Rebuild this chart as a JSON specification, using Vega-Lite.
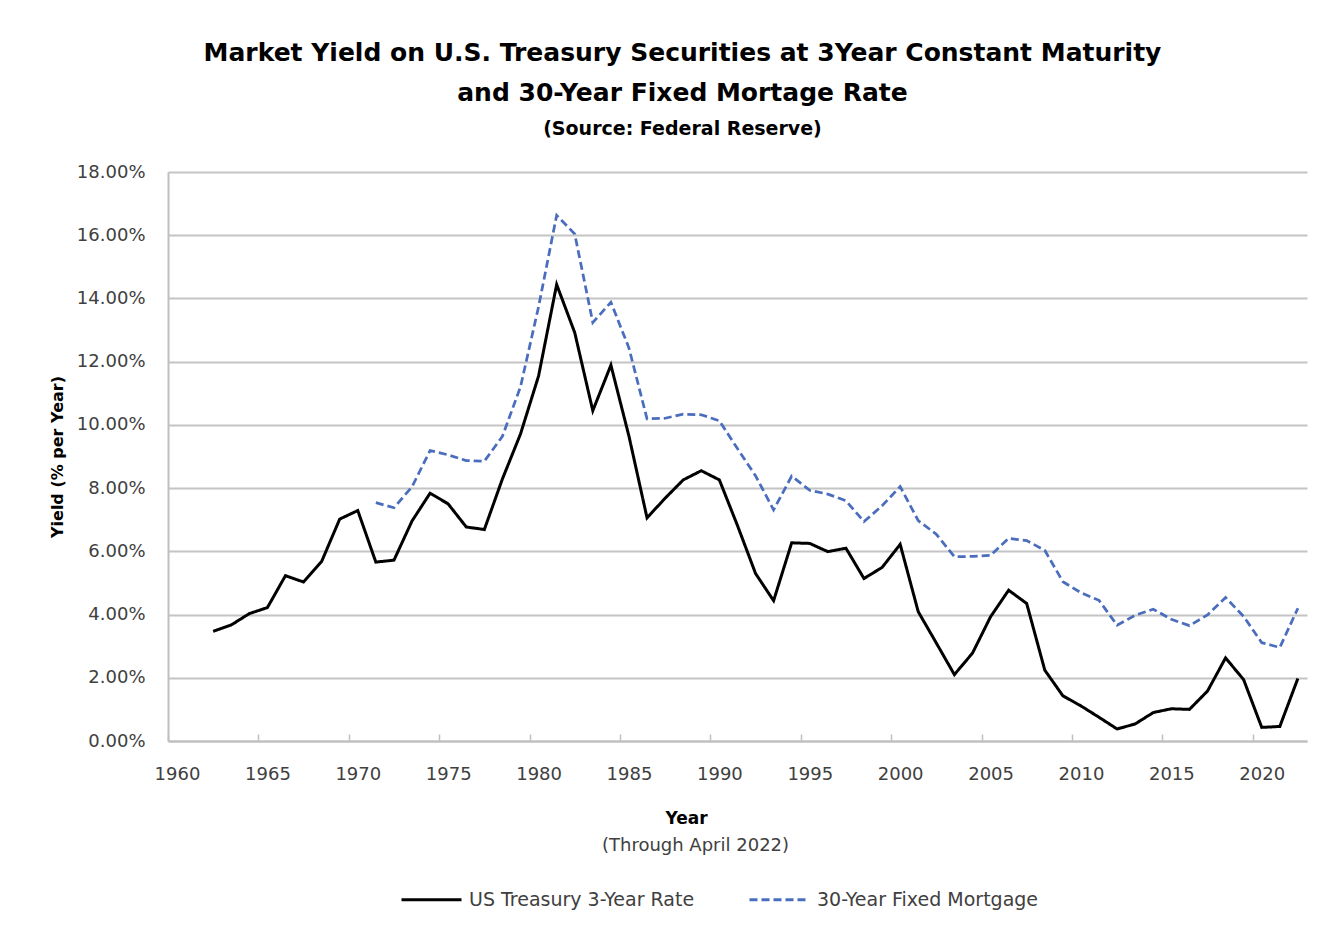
{
  "$schema": "https://vega.github.io/schema/vega-lite/v6.json",
  "autosize": "none",
  "width": 1139,
  "height": 569,
  "padding": {"left": 168, "top": 172, "right": 27, "bottom": 189},
  "background": "white",
  "title": {
    "text": ["Market Yield on U.S. Treasury Securities at 3Year Constant Maturity", "and 30-Year Fixed Mortage Rate"],
    "subtitle": "(Source: Federal Reserve)",
    "anchor": "middle",
    "dx": -55,
    "font": "DejaVu Sans",
    "fontSize": 25,
    "fontWeight": "bold",
    "lineHeight": 40,
    "color": "#000000",
    "subtitleFont": "DejaVu Sans",
    "subtitleFontSize": 19,
    "subtitleFontWeight": "bold",
    "subtitleColor": "#000000",
    "subtitlePadding": 14,
    "offset": 24
  },
  "data": {
    "values": [
      {"year": "1962-07-01", "series": "US Treasury 3-Year Rate", "rate": 3.47},
      {"year": "1963-07-01", "series": "US Treasury 3-Year Rate", "rate": 3.67},
      {"year": "1964-07-01", "series": "US Treasury 3-Year Rate", "rate": 4.03},
      {"year": "1965-07-01", "series": "US Treasury 3-Year Rate", "rate": 4.22},
      {"year": "1966-07-01", "series": "US Treasury 3-Year Rate", "rate": 5.23},
      {"year": "1967-07-01", "series": "US Treasury 3-Year Rate", "rate": 5.03},
      {"year": "1968-07-01", "series": "US Treasury 3-Year Rate", "rate": 5.68},
      {"year": "1969-07-01", "series": "US Treasury 3-Year Rate", "rate": 7.02},
      {"year": "1970-07-01", "series": "US Treasury 3-Year Rate", "rate": 7.29},
      {"year": "1971-07-01", "series": "US Treasury 3-Year Rate", "rate": 5.66},
      {"year": "1972-07-01", "series": "US Treasury 3-Year Rate", "rate": 5.72},
      {"year": "1973-07-01", "series": "US Treasury 3-Year Rate", "rate": 6.96},
      {"year": "1974-07-01", "series": "US Treasury 3-Year Rate", "rate": 7.84},
      {"year": "1975-07-01", "series": "US Treasury 3-Year Rate", "rate": 7.50},
      {"year": "1976-07-01", "series": "US Treasury 3-Year Rate", "rate": 6.77},
      {"year": "1977-07-01", "series": "US Treasury 3-Year Rate", "rate": 6.69},
      {"year": "1978-07-01", "series": "US Treasury 3-Year Rate", "rate": 8.29},
      {"year": "1979-07-01", "series": "US Treasury 3-Year Rate", "rate": 9.71},
      {"year": "1980-07-01", "series": "US Treasury 3-Year Rate", "rate": 11.55},
      {"year": "1981-07-01", "series": "US Treasury 3-Year Rate", "rate": 14.44},
      {"year": "1982-07-01", "series": "US Treasury 3-Year Rate", "rate": 12.92},
      {"year": "1983-07-01", "series": "US Treasury 3-Year Rate", "rate": 10.45},
      {"year": "1984-07-01", "series": "US Treasury 3-Year Rate", "rate": 11.89},
      {"year": "1985-07-01", "series": "US Treasury 3-Year Rate", "rate": 9.64},
      {"year": "1986-07-01", "series": "US Treasury 3-Year Rate", "rate": 7.06},
      {"year": "1987-07-01", "series": "US Treasury 3-Year Rate", "rate": 7.68},
      {"year": "1988-07-01", "series": "US Treasury 3-Year Rate", "rate": 8.26},
      {"year": "1989-07-01", "series": "US Treasury 3-Year Rate", "rate": 8.55},
      {"year": "1990-07-01", "series": "US Treasury 3-Year Rate", "rate": 8.26},
      {"year": "1991-07-01", "series": "US Treasury 3-Year Rate", "rate": 6.82},
      {"year": "1992-07-01", "series": "US Treasury 3-Year Rate", "rate": 5.30},
      {"year": "1993-07-01", "series": "US Treasury 3-Year Rate", "rate": 4.44},
      {"year": "1994-07-01", "series": "US Treasury 3-Year Rate", "rate": 6.27},
      {"year": "1995-07-01", "series": "US Treasury 3-Year Rate", "rate": 6.25},
      {"year": "1996-07-01", "series": "US Treasury 3-Year Rate", "rate": 5.99},
      {"year": "1997-07-01", "series": "US Treasury 3-Year Rate", "rate": 6.10},
      {"year": "1998-07-01", "series": "US Treasury 3-Year Rate", "rate": 5.14},
      {"year": "1999-07-01", "series": "US Treasury 3-Year Rate", "rate": 5.49},
      {"year": "2000-07-01", "series": "US Treasury 3-Year Rate", "rate": 6.22},
      {"year": "2001-07-01", "series": "US Treasury 3-Year Rate", "rate": 4.09},
      {"year": "2002-07-01", "series": "US Treasury 3-Year Rate", "rate": 3.10},
      {"year": "2003-07-01", "series": "US Treasury 3-Year Rate", "rate": 2.10},
      {"year": "2004-07-01", "series": "US Treasury 3-Year Rate", "rate": 2.78},
      {"year": "2005-07-01", "series": "US Treasury 3-Year Rate", "rate": 3.93},
      {"year": "2006-07-01", "series": "US Treasury 3-Year Rate", "rate": 4.77},
      {"year": "2007-07-01", "series": "US Treasury 3-Year Rate", "rate": 4.35},
      {"year": "2008-07-01", "series": "US Treasury 3-Year Rate", "rate": 2.24},
      {"year": "2009-07-01", "series": "US Treasury 3-Year Rate", "rate": 1.43},
      {"year": "2010-07-01", "series": "US Treasury 3-Year Rate", "rate": 1.11},
      {"year": "2011-07-01", "series": "US Treasury 3-Year Rate", "rate": 0.75},
      {"year": "2012-07-01", "series": "US Treasury 3-Year Rate", "rate": 0.38},
      {"year": "2013-07-01", "series": "US Treasury 3-Year Rate", "rate": 0.54},
      {"year": "2014-07-01", "series": "US Treasury 3-Year Rate", "rate": 0.90},
      {"year": "2015-07-01", "series": "US Treasury 3-Year Rate", "rate": 1.02},
      {"year": "2016-07-01", "series": "US Treasury 3-Year Rate", "rate": 1.00},
      {"year": "2017-07-01", "series": "US Treasury 3-Year Rate", "rate": 1.58},
      {"year": "2018-07-01", "series": "US Treasury 3-Year Rate", "rate": 2.63},
      {"year": "2019-07-01", "series": "US Treasury 3-Year Rate", "rate": 1.94},
      {"year": "2020-07-01", "series": "US Treasury 3-Year Rate", "rate": 0.43},
      {"year": "2021-07-01", "series": "US Treasury 3-Year Rate", "rate": 0.46},
      {"year": "2022-07-01", "series": "US Treasury 3-Year Rate", "rate": 1.98},
      {"year": "1971-07-01", "series": "30-Year Fixed Mortgage", "rate": 7.54},
      {"year": "1972-07-01", "series": "30-Year Fixed Mortgage", "rate": 7.38},
      {"year": "1973-07-01", "series": "30-Year Fixed Mortgage", "rate": 8.04},
      {"year": "1974-07-01", "series": "30-Year Fixed Mortgage", "rate": 9.19},
      {"year": "1975-07-01", "series": "30-Year Fixed Mortgage", "rate": 9.05},
      {"year": "1976-07-01", "series": "30-Year Fixed Mortgage", "rate": 8.87},
      {"year": "1977-07-01", "series": "30-Year Fixed Mortgage", "rate": 8.85},
      {"year": "1978-07-01", "series": "30-Year Fixed Mortgage", "rate": 9.64},
      {"year": "1979-07-01", "series": "30-Year Fixed Mortgage", "rate": 11.20},
      {"year": "1980-07-01", "series": "30-Year Fixed Mortgage", "rate": 13.74},
      {"year": "1981-07-01", "series": "30-Year Fixed Mortgage", "rate": 16.63},
      {"year": "1982-07-01", "series": "30-Year Fixed Mortgage", "rate": 16.04},
      {"year": "1983-07-01", "series": "30-Year Fixed Mortgage", "rate": 13.24},
      {"year": "1984-07-01", "series": "30-Year Fixed Mortgage", "rate": 13.88},
      {"year": "1985-07-01", "series": "30-Year Fixed Mortgage", "rate": 12.43},
      {"year": "1986-07-01", "series": "30-Year Fixed Mortgage", "rate": 10.19},
      {"year": "1987-07-01", "series": "30-Year Fixed Mortgage", "rate": 10.21},
      {"year": "1988-07-01", "series": "30-Year Fixed Mortgage", "rate": 10.34},
      {"year": "1989-07-01", "series": "30-Year Fixed Mortgage", "rate": 10.32},
      {"year": "1990-07-01", "series": "30-Year Fixed Mortgage", "rate": 10.13},
      {"year": "1991-07-01", "series": "30-Year Fixed Mortgage", "rate": 9.25},
      {"year": "1992-07-01", "series": "30-Year Fixed Mortgage", "rate": 8.39},
      {"year": "1993-07-01", "series": "30-Year Fixed Mortgage", "rate": 7.31},
      {"year": "1994-07-01", "series": "30-Year Fixed Mortgage", "rate": 8.38},
      {"year": "1995-07-01", "series": "30-Year Fixed Mortgage", "rate": 7.93},
      {"year": "1996-07-01", "series": "30-Year Fixed Mortgage", "rate": 7.81},
      {"year": "1997-07-01", "series": "30-Year Fixed Mortgage", "rate": 7.60},
      {"year": "1998-07-01", "series": "30-Year Fixed Mortgage", "rate": 6.94},
      {"year": "1999-07-01", "series": "30-Year Fixed Mortgage", "rate": 7.44},
      {"year": "2000-07-01", "series": "30-Year Fixed Mortgage", "rate": 8.05},
      {"year": "2001-07-01", "series": "30-Year Fixed Mortgage", "rate": 6.97},
      {"year": "2002-07-01", "series": "30-Year Fixed Mortgage", "rate": 6.54},
      {"year": "2003-07-01", "series": "30-Year Fixed Mortgage", "rate": 5.83},
      {"year": "2004-07-01", "series": "30-Year Fixed Mortgage", "rate": 5.84},
      {"year": "2005-07-01", "series": "30-Year Fixed Mortgage", "rate": 5.87},
      {"year": "2006-07-01", "series": "30-Year Fixed Mortgage", "rate": 6.41},
      {"year": "2007-07-01", "series": "30-Year Fixed Mortgage", "rate": 6.34},
      {"year": "2008-07-01", "series": "30-Year Fixed Mortgage", "rate": 6.03},
      {"year": "2009-07-01", "series": "30-Year Fixed Mortgage", "rate": 5.04},
      {"year": "2010-07-01", "series": "30-Year Fixed Mortgage", "rate": 4.69},
      {"year": "2011-07-01", "series": "30-Year Fixed Mortgage", "rate": 4.45},
      {"year": "2012-07-01", "series": "30-Year Fixed Mortgage", "rate": 3.66},
      {"year": "2013-07-01", "series": "30-Year Fixed Mortgage", "rate": 3.98},
      {"year": "2014-07-01", "series": "30-Year Fixed Mortgage", "rate": 4.17},
      {"year": "2015-07-01", "series": "30-Year Fixed Mortgage", "rate": 3.85},
      {"year": "2016-07-01", "series": "30-Year Fixed Mortgage", "rate": 3.65},
      {"year": "2017-07-01", "series": "30-Year Fixed Mortgage", "rate": 3.99},
      {"year": "2018-07-01", "series": "30-Year Fixed Mortgage", "rate": 4.54},
      {"year": "2019-07-01", "series": "30-Year Fixed Mortgage", "rate": 3.94},
      {"year": "2020-07-01", "series": "30-Year Fixed Mortgage", "rate": 3.11},
      {"year": "2021-07-01", "series": "30-Year Fixed Mortgage", "rate": 2.96},
      {"year": "2022-07-01", "series": "30-Year Fixed Mortgage", "rate": 4.20}
    ]
  },
  "layer": [
    {
      "transform": [{"filter": "datum.series === 'US Treasury 3-Year Rate'"}],
      "mark": {"type": "line", "strokeWidth": 3, "strokeJoin": "miter"},
      "encoding": {
        "x": {
          "field": "year", "type": "temporal",
          "scale": {"domain": [{"year": 1960, "month": 1, "date": 1}, {"year": 2023, "month": 1, "date": 1}], "nice": false},
          "axis": {
            "title": "Year",
            "titleFont": "DejaVu Sans", "titleFontSize": 17, "titleFontWeight": "bold", "titleColor": "#000000",
            "titlePadding": 27, "titleX": 518,
            "values": [{"year": 1960}, {"year": 1965}, {"year": 1970}, {"year": 1975}, {"year": 1980}, {"year": 1985}, {"year": 1990}, {"year": 1995}, {"year": 2000}, {"year": 2005}, {"year": 2010}, {"year": 2015}, {"year": 2020}],
            "format": "%Y",
            "labelFont": "DejaVu Sans", "labelFontSize": 18, "labelColor": "#404040",
            "labelOffset": 9, "labelFlush": false, "labelPadding": 31,
            "ticks": true, "tickSize": -7, "tickColor": "#bfbfbf", "tickWidth": 1.5,
            "domain": true, "domainColor": "#bfbfbf", "domainWidth": 2,
            "grid": false
          }
        },
        "y": {
          "field": "rate", "type": "quantitative",
          "scale": {"domain": [0, 18], "nice": false},
          "axis": {
            "title": "Yield (% per Year)",
            "titleFont": "DejaVu Sans", "titleFontSize": 16, "titleFontWeight": "bold", "titleColor": "#000000",
            "titlePadding": 11,
            "values": [0, 2, 4, 6, 8, 10, 12, 14, 16, 18],
            "labelExpr": "format(datum.value, '.2f') + '%'",
            "labelFont": "DejaVu Sans", "labelFontSize": 18, "labelColor": "#404040",
            "labelPadding": 23,
            "ticks": false,
            "domain": true, "domainColor": "#bfbfbf", "domainWidth": 2,
            "grid": true, "gridColor": "#c4c4c4", "gridWidth": 2
          }
        },
        "color": {
          "field": "series", "type": "nominal",
          "scale": {"domain": ["US Treasury 3-Year Rate", "30-Year Fixed Mortgage"], "range": ["#000000", "#4A6DBD"]},
          "legend": {
            "title": null, "orient": "none", "legendX": 232, "legendY": 696, "direction": "horizontal",
            "symbolType": "stroke", "symbolSize": 3600, "symbolStrokeWidth": 3,
            "labelFont": "DejaVu Sans", "labelFontSize": 19, "labelColor": "#404040",
            "labelOffset": 6, "columnPadding": 48, "labelLimit": 400
          }
        },
        "strokeDash": {
          "field": "series", "type": "nominal",
          "scale": {"domain": ["US Treasury 3-Year Rate", "30-Year Fixed Mortgage"], "range": [[1, 0], [8, 4]]},
          "legend": {
            "title": null, "orient": "none", "legendX": 232, "legendY": 696, "direction": "horizontal",
            "symbolType": "stroke", "symbolSize": 3600, "symbolStrokeWidth": 3,
            "labelFont": "DejaVu Sans", "labelFontSize": 19, "labelColor": "#404040",
            "labelOffset": 6, "columnPadding": 48, "labelLimit": 400
          }
        }
      }
    },
    {
      "transform": [{"filter": "datum.series === '30-Year Fixed Mortgage'"}],
      "mark": {"type": "line", "strokeWidth": 2.75},
      "encoding": {
        "x": {
          "field": "year", "type": "temporal",
          "axis": {
            "orient": "bottom",
            "title": "(Through April 2022)",
            "titleFont": "DejaVu Sans", "titleFontSize": 18, "titleFontWeight": "normal", "titleColor": "#404040",
            "titlePadding": 95, "titleX": 527,
            "labels": false, "ticks": false, "domain": false, "grid": false
          }
        },
        "y": {"field": "rate", "type": "quantitative"},
        "color": {"field": "series", "type": "nominal"},
        "strokeDash": {"field": "series", "type": "nominal"}
      }
    }
  ],
  "resolve": {"axis": {"x": "independent"}},
  "config": {
    "view": {"stroke": null},
    "axis": {"titleAnchor": "middle"}
  }
}
